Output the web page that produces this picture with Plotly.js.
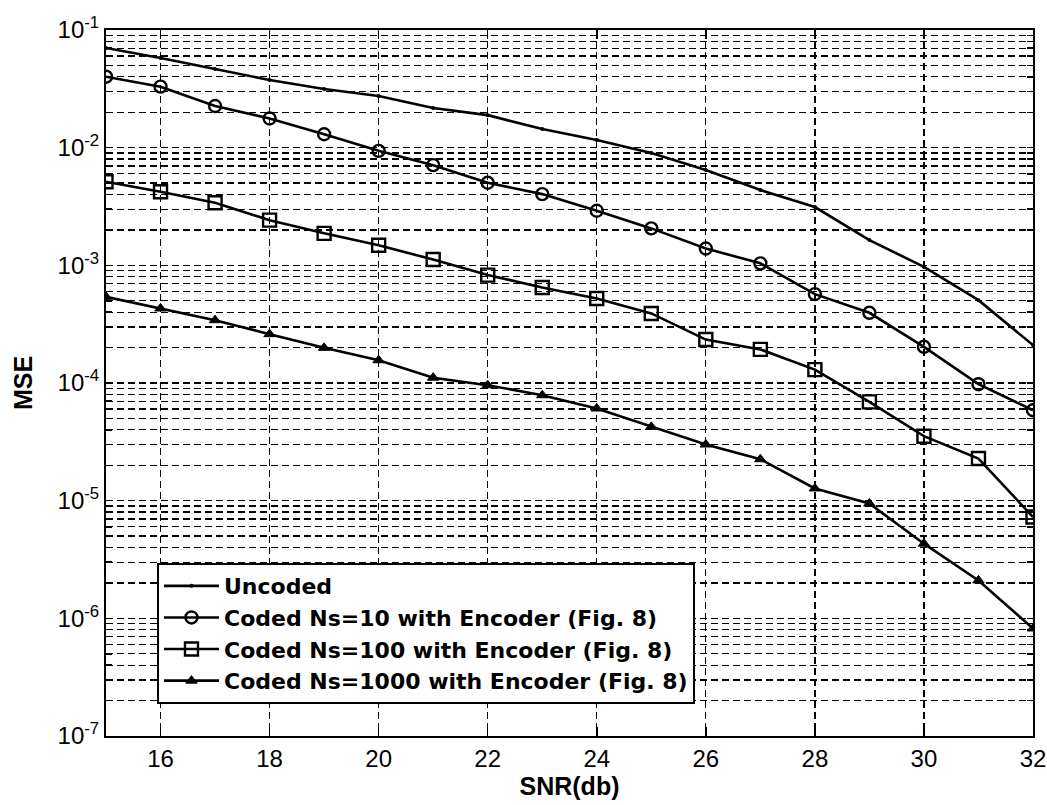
<!DOCTYPE html>
<html>
<head>
<meta charset="utf-8">
<script src="https://cdn.plot.ly/plotly-3.0.1.min.js"></script>
<style>html,body{margin:0;padding:0;background:#fff;}#chart{width:1047px;height:805px;}</style>
</head>
<body>
<div id="chart"></div>
<script>
const snr = [15,16,17,18,19,20,21,22,23,24,25,26,27,28,29,30,31,32];
const uncoded = [0.0703,0.0578,0.0466,0.0376,0.0315,0.0275,0.0217,0.0189,0.0144,0.0116,0.0090,0.00645,0.00436,0.00313,0.00164,0.00097,0.000506,0.000210];
const codedNs10 = [0.0401,0.033,0.0226,0.0177,0.0130,0.0094,0.0071,0.00503,0.00403,0.00291,0.00206,0.00139,0.00104,0.000569,0.000395,0.000203,0.0000977,0.0000587];
const codedNs100 = [0.00513,0.00422,0.0034,0.00242,0.00187,0.00148,0.00112,0.000826,0.000649,0.000523,0.00039,0.000234,0.000193,0.000130,0.0000691,0.0000353,0.0000228,0.00000726];
const codedNs1000 = [0.00054,0.00043,0.000342,0.00026,0.000199,0.000156,0.000111,0.0000958,0.0000787,0.0000607,0.0000424,0.00003,0.0000225,0.0000127,0.00000945,0.00000431,0.0000021,0.00000082];
const seriesNames = ["Uncoded","Coded Ns=10 with Encoder (Fig. 8)","Coded Ns=100 with Encoder (Fig. 8)","Coded Ns=1000 with Encoder (Fig. 8)"];
const xTicks = [16,18,20,22,24,26,28,30,32];
const decadeExps = [-7,-6,-5,-4,-3,-2,-1];

// y tick values: every 1..9 x 10^n, labels only on decades
const yTickVals = [], yTickText = [];
decadeExps.forEach(function(e){
  for (let m = 1; m <= 9; m++) {
    if (e === -1 && m > 1) break;
    yTickVals.push(m * Math.pow(10, e));
    yTickText.push(m === 1 ? "10<sup>" + e + "</sup>" : "");
  }
});

const lineStyle = {color:'#000', width:2.6};
const traces = [
  {x:snr, y:uncoded, name:seriesNames[0], legendgroup:'a', mode:'lines+markers', line:lineStyle,
   marker:{symbol:'circle', size:4, color:'#000'}},
  {x:snr, y:codedNs10, name:seriesNames[1], legendgroup:'b', mode:'lines+markers', line:lineStyle,
   marker:{symbol:'circle-open', size:12, color:'#000', line:{width:2.4, color:'#000'}}},
  {x:snr, y:codedNs100, name:seriesNames[2], legendgroup:'c', mode:'lines+markers', line:lineStyle,
   marker:{symbol:'square-open', size:13, color:'#000', line:{width:2.4, color:'#000'}}},
  {x:snr, y:codedNs1000, name:seriesNames[3], legendgroup:'d', mode:'lines+markers', line:lineStyle,
   marker:{symbol:'triangle-up', size:10, color:'#000', line:{width:1, color:'#000'}}}
];

const fontFam = 'Liberation Sans, Arial, sans-serif';
const dashPat = '7px,4px';
const layout = {
  width:1047, height:805,
  margin:{l:106, r:14, t:30, b:69},
  paper_bgcolor:'#fff', plot_bgcolor:'#fff',
  showlegend:true,
  font:{family:fontFam, size:17, color:'#000'},
  xaxis:{
    range:[15,32], tickvals:xTicks, ticktext:xTicks.map(String),
    ticks:'inside', ticklen:9, tickwidth:1.5, tickcolor:'#000',
    showline:true, linecolor:'#000', linewidth:2, mirror:'ticks',
    showgrid:true, gridcolor:'#000', gridwidth:1.3, griddash:dashPat,
    zeroline:false, tickfont:{family:fontFam, size:24, color:'#000'},
    title:{text:'<b>SNR(db)</b>', font:{family:fontFam, size:25, color:'#000'}, standoff:4}
  },
  yaxis:{
    type:'log', range:[-7,-1], tickmode:'array', tickvals:yTickVals, ticktext:yTickText,
    ticks:'inside', ticklen:6, tickwidth:1.5, tickcolor:'#000',
    showline:true, linecolor:'#000', linewidth:2, mirror:'ticks',
    showgrid:true, gridcolor:'#000', gridwidth:1.3, griddash:dashPat,
    zeroline:false, tickfont:{family:fontFam, size:24, color:'#000'},
    title:{text:'<b>MSE</b>', font:{family:fontFam, size:25, color:'#000'}, standoff:18}
  },
  legend:{
    x:0.055, y:0.245, xanchor:'left', yanchor:'top',
    bgcolor:'#fff', bordercolor:'#000', borderwidth:2,
    font:{family:'DejaVu Sans, sans-serif', size:22, color:'#000', weight:'bold'},
    itemwidth:55, tracegroupgap:0
  }
};

Plotly.newPlot('chart', traces, layout, {staticPlot:true, displayModeBar:false});
</script>
</body>
</html>
